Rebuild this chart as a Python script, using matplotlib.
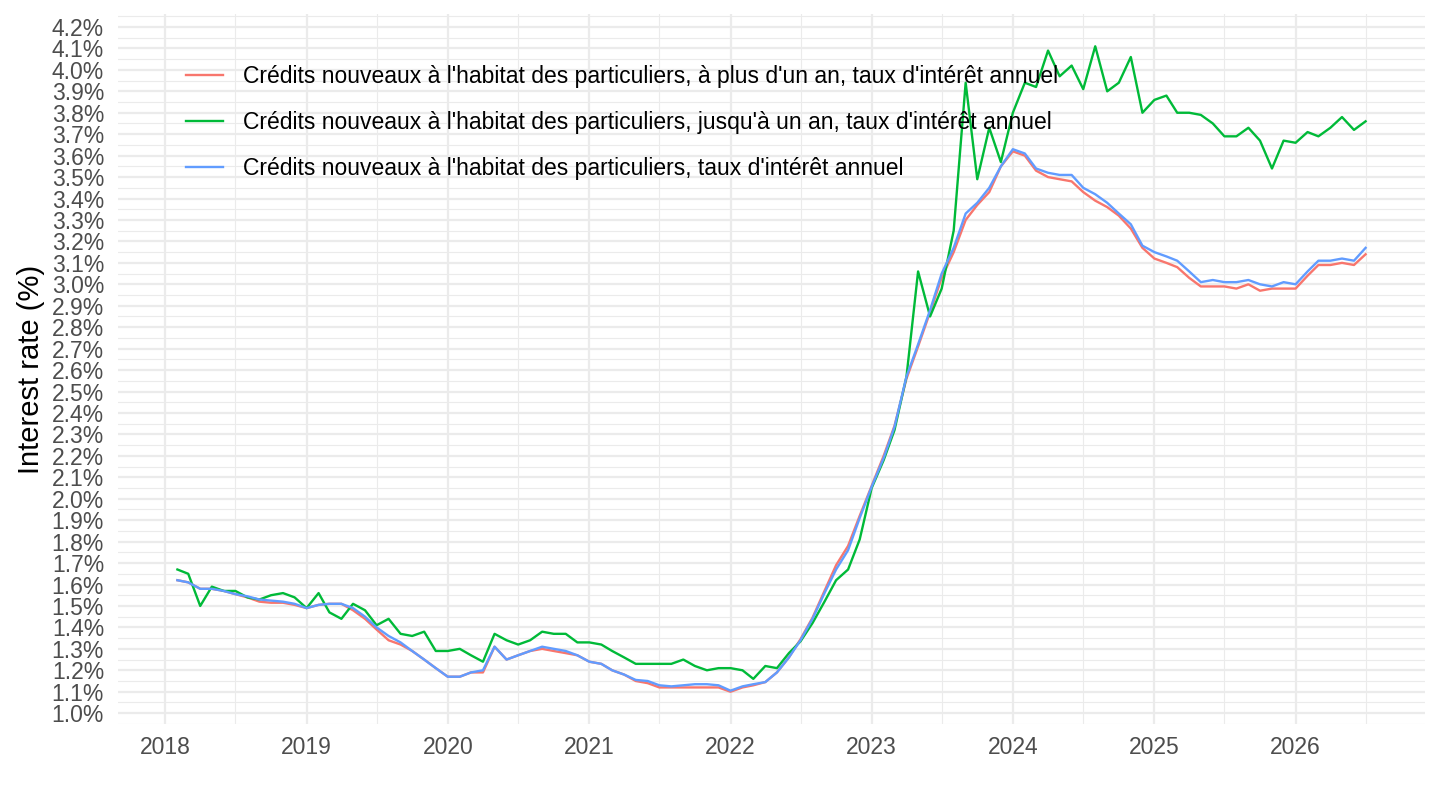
import numpy as np
import pandas as pd
import matplotlib
matplotlib.use("Agg")
import matplotlib.pyplot as plt
import matplotlib.dates as mdates
from matplotlib.ticker import FuncFormatter, MultipleLocator

plt.rcParams['font.family'] = ['Liberation Sans', 'DejaVu Sans']

months = pd.date_range("2018-02-01", periods=102, freq="MS")

label_long = "Crédits nouveaux à l'habitat des particuliers, à plus d'un an, taux d'intérêt annuel"
label_short = "Crédits nouveaux à l'habitat des particuliers, jusqu'à un an, taux d'intérêt annuel"
label_all = "Crédits nouveaux à l'habitat des particuliers, taux d'intérêt annuel"

# à plus d'un an (red)
rate_long = [
    1.62, 1.61, 1.58, 1.58, 1.57, 1.555, 1.54, 1.52, 1.515, 1.515, 1.505,
    1.49, 1.505, 1.51, 1.51, 1.48, 1.44, 1.39, 1.34, 1.32, 1.29, 1.25, 1.21,
    1.17, 1.17, 1.19, 1.19, 1.31, 1.25, 1.27, 1.29, 1.30, 1.29, 1.28, 1.27,
    1.24, 1.23, 1.20, 1.18, 1.15, 1.14, 1.12, 1.12, 1.12, 1.12, 1.12, 1.12,
    1.10, 1.12, 1.13, 1.145, 1.19, 1.26, 1.345, 1.445, 1.57, 1.69, 1.78, 1.92,
    2.06, 2.20, 2.34, 2.56, 2.71, 2.87, 3.03, 3.15, 3.30, 3.37, 3.43, 3.55,
    3.62, 3.60, 3.53, 3.50, 3.49, 3.48, 3.43, 3.39, 3.36, 3.32, 3.26, 3.17,
    3.12, 3.10, 3.08, 3.03, 2.99, 2.99, 2.99, 2.98, 3.00, 2.97, 2.98, 2.98,
    2.98, 3.04, 3.09, 3.09, 3.10, 3.09, 3.14,
]

# jusqu'à un an (green)
rate_short = [
    1.67, 1.65, 1.50, 1.59, 1.57, 1.57, 1.54, 1.53, 1.55, 1.56, 1.54,
    1.49, 1.56, 1.47, 1.44, 1.51, 1.48, 1.41, 1.44, 1.37, 1.36, 1.38, 1.29,
    1.29, 1.30, 1.27, 1.24, 1.37, 1.34, 1.32, 1.34, 1.38, 1.37, 1.37, 1.33,
    1.33, 1.32, 1.29, 1.26, 1.23, 1.23, 1.23, 1.23, 1.25, 1.22, 1.20, 1.21,
    1.21, 1.20, 1.16, 1.22, 1.21, 1.28, 1.335, 1.42, 1.52, 1.62, 1.67, 1.81,
    2.05, 2.18, 2.32, 2.57, 3.06, 2.85, 2.98, 3.25, 3.94, 3.49, 3.73, 3.57,
    3.80, 3.94, 3.92, 4.09, 3.97, 4.02, 3.91, 4.11, 3.90, 3.94, 4.06, 3.80,
    3.86, 3.88, 3.80, 3.80, 3.79, 3.75, 3.69, 3.69, 3.73, 3.67, 3.54, 3.67,
    3.66, 3.71, 3.69, 3.73, 3.78, 3.72, 3.76,
]

# ensemble (blue)
rate_all = [
    1.62, 1.61, 1.58, 1.58, 1.57, 1.555, 1.545, 1.53, 1.525, 1.52, 1.51,
    1.49, 1.505, 1.51, 1.51, 1.49, 1.45, 1.40, 1.36, 1.33, 1.29, 1.25, 1.21,
    1.17, 1.17, 1.19, 1.20, 1.31, 1.25, 1.27, 1.29, 1.31, 1.30, 1.29, 1.27,
    1.24, 1.23, 1.20, 1.18, 1.155, 1.15, 1.13, 1.125, 1.13, 1.135, 1.135, 1.13,
    1.105, 1.125, 1.135, 1.145, 1.19, 1.26, 1.34, 1.44, 1.56, 1.67, 1.76, 1.91,
    2.056, 2.19, 2.335, 2.57, 2.72, 2.88, 3.05, 3.17, 3.33, 3.38, 3.45, 3.55,
    3.63, 3.61, 3.54, 3.52, 3.51, 3.51, 3.45, 3.42, 3.38, 3.33, 3.28, 3.18,
    3.15, 3.13, 3.11, 3.06, 3.01, 3.02, 3.01, 3.01, 3.02, 3.00, 2.99, 3.01,
    3.00, 3.06, 3.11, 3.11, 3.12, 3.11, 3.17,
]

df = pd.DataFrame({"date": months, label_long: rate_long,
                   label_short: rate_short, label_all: rate_all})

colors = ["#F8766D", "#00BA38", "#619CFF"]

fig = plt.figure(figsize=(14.4, 8.1), dpi=100)
ax = fig.add_axes([118 / 1440, 1 - 724 / 810, 1307 / 1440, 710 / 810])

for col, c in zip([label_long, label_short, label_all], colors):
    ax.plot(df["date"], df[col], color=c, lw=1.7, label=col)

ax.set_yticks(np.arange(1.0, 4.21, 0.1))
ax.yaxis.set_minor_locator(MultipleLocator(0.05))
ax.yaxis.set_major_formatter(FuncFormatter(lambda v, p: f"{v:.1f}%"))
ax.xaxis.set_major_locator(mdates.YearLocator())
ax.xaxis.set_minor_locator(mdates.MonthLocator(bymonth=7))
ax.xaxis.set_major_formatter(mdates.DateFormatter("%Y"))

ax.grid(True, which="major", color="#EBEBEB", lw=1.6)
ax.grid(True, which="minor", color="#EBEBEB", lw=0.8)
ax.set_axisbelow(True)
for s in ax.spines.values():
    s.set_visible(False)
ax.tick_params(which="both", length=0, labelsize=16.5, labelcolor="#4D4D4D")
ax.tick_params(axis="x", pad=9)
ax.tick_params(axis="y", pad=10)

ax.set_ylabel("Interest rate (%)", fontsize=21, color="black")
ax.yaxis.set_label_coords(-0.056, 0.5)

leg = ax.legend(loc="upper left", bbox_to_anchor=(0.0524, 0.928), frameon=False,
                fontsize=16.5, handlelength=1.6, handletextpad=0.87,
                labelspacing=1.0, borderpad=0, borderaxespad=0)

fig.savefig("out.png", dpi=100)
